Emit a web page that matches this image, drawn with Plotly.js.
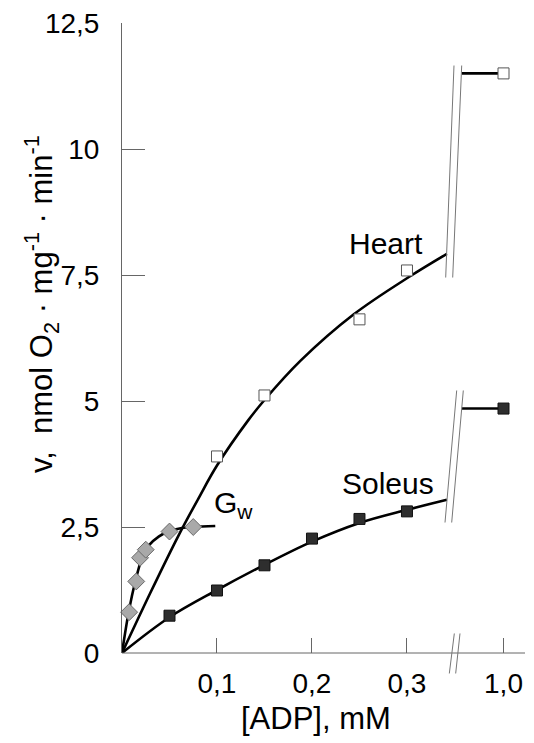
<!DOCTYPE html>
<html>
<head>
<meta charset="utf-8">
<script src="https://cdn.plot.ly/plotly-3.0.1.min.js"></script>
<style>html,body{margin:0;padding:0;background:#fff;}#chart{width:534px;height:743px;}</style>
</head>
<body>
<div id="chart"></div>
<script>
// ---- measured points ----
const heartADP = [0.1, 0.15, 0.25, 0.3];
const heartV = [3.90, 5.11, 6.62, 7.59];
const heartHighADP = [1.0];
const heartHighV = [11.50];

const soleusADP = [0.05, 0.1, 0.15, 0.2, 0.25, 0.3];
const soleusV = [0.74, 1.24, 1.74, 2.27, 2.66, 2.81];
const soleusHighADP = [1.0];
const soleusHighV = [4.85];

const gwADP = [0.0075, 0.015, 0.019, 0.025, 0.05, 0.075];
const gwV = [0.81, 1.42, 1.89, 2.05, 2.41, 2.50];

// ---- fitted curves ----
const heartFitX = [0, 0.03, 0.06, 0.08, 0.1, 0.133, 0.15, 0.188, 0.244, 0.302, 0.342];
const heartFitY = [0, 1.20, 2.35, 3.05, 3.72, 4.62, 5.02, 5.80, 6.72, 7.46, 7.92];
const heartFitHighX = [0.956, 1.0];
const heartFitHighY = [11.50, 11.50];

const soleusFitX = [0, 0.05, 0.1, 0.15, 0.2, 0.25, 0.3, 0.342];
const soleusFitY = [0, 0.71, 1.25, 1.75, 2.21, 2.58, 2.84, 3.04];
const soleusFitHighX = [0.956, 1.0];
const soleusFitHighY = [4.85, 4.85];

const gwFitX = [0, 0.007, 0.014, 0.021, 0.028, 0.0386, 0.0491, 0.0631, 0.0754, 0.0982];
const gwFitY = [0, 0.81, 1.42, 1.88, 2.13, 2.31, 2.41, 2.48, 2.50, 2.52];

// ---- axis ticks ----
const yTickVals = [0, 2.5, 5, 7.5, 10, 12.5];
const yTickText = ['0', '2,5', '5', '7,5', '10', '12,5'];
const xTickVals = [0.1, 0.2, 0.3];
const xTickText = ['0,1', '0,2', '0,3'];
const x2TickVals = [1.0];
const x2TickText = ['1,0'];

const FONT = 'Liberation Sans, Arial, sans-serif';
const lineStyle = {color: '#000', width: 2.6};
const splineStyle = {color: '#000', width: 2.6, shape: 'spline', smoothing: 1};

const traces = [
  {x: heartFitX, y: heartFitY, mode: 'lines', line: splineStyle, xaxis: 'x', yaxis: 'y', hoverinfo: 'skip'},
  {x: soleusFitX, y: soleusFitY, mode: 'lines', line: splineStyle, xaxis: 'x', yaxis: 'y', hoverinfo: 'skip'},
  {x: gwFitX, y: gwFitY, mode: 'lines', line: splineStyle, xaxis: 'x', yaxis: 'y', hoverinfo: 'skip'},
  {x: heartFitHighX, y: heartFitHighY, mode: 'lines', line: lineStyle, xaxis: 'x2', yaxis: 'y', hoverinfo: 'skip'},
  {x: soleusFitHighX, y: soleusFitHighY, mode: 'lines', line: lineStyle, xaxis: 'x2', yaxis: 'y', hoverinfo: 'skip'},
  {x: gwADP, y: gwV, mode: 'markers', xaxis: 'x', yaxis: 'y', cliponaxis: false,
   marker: {symbol: 'diamond', size: 13, color: '#a9a9a9', line: {color: '#6a6a6a', width: 1}}},
  {x: heartADP, y: heartV, mode: 'markers', xaxis: 'x', yaxis: 'y', cliponaxis: false,
   marker: {symbol: 'square', size: 11, color: '#ffffff', line: {color: '#555', width: 1}}},
  {x: heartHighADP, y: heartHighV, mode: 'markers', xaxis: 'x2', yaxis: 'y', cliponaxis: false,
   marker: {symbol: 'square', size: 11, color: '#ffffff', line: {color: '#555', width: 1}}},
  {x: soleusADP, y: soleusV, mode: 'markers', xaxis: 'x', yaxis: 'y', cliponaxis: false,
   marker: {symbol: 'square', size: 11, color: '#2e2e2e', line: {color: '#111', width: 1}}},
  {x: soleusHighADP, y: soleusHighV, mode: 'markers', xaxis: 'x2', yaxis: 'y', cliponaxis: false,
   marker: {symbol: 'square', size: 11, color: '#2e2e2e', line: {color: '#111', width: 1}}}
];

const breakLine = {color: '#777', width: 1};
const shapes = [
  {type: 'line', xref: 'paper', yref: 'paper', x0: 0, x1: 1, y0: 0, y1: 0, line: {color: '#666', width: 1}},
  {type: 'line', xref: 'paper', yref: 'paper', x0: 0.8122, y0: -0.0325, x1: 0.8246, y1: 0.031, line: breakLine},
  {type: 'line', xref: 'paper', yref: 'paper', x0: 0.8280, y0: -0.0325, x1: 0.8387, y1: 0.031, line: breakLine},
  {type: 'line', xref: 'paper', yref: 'paper', x0: 0.8032, y0: 0.596, x1: 0.8238, y1: 0.9325, line: breakLine},
  {type: 'line', xref: 'paper', yref: 'paper', x0: 0.8206, y0: 0.596, x1: 0.8429, y1: 0.9325, line: breakLine},
  {type: 'line', xref: 'paper', yref: 'paper', x0: 0.8015, y0: 0.2071, x1: 0.8305, y1: 0.4167, line: breakLine},
  {type: 'line', xref: 'paper', yref: 'paper', x0: 0.8181, y0: 0.2071, x1: 0.8469, y1: 0.4167, line: breakLine}
];

const annotations = [
  {text: 'Heart', x: 0.278, y: 8.13, xref: 'x', yref: 'y', showarrow: false, font: {family: FONT, size: 30, color: '#000'}},
  {text: 'Soleus', x: 0.280, y: 3.37, xref: 'x', yref: 'y', showarrow: false, font: {family: FONT, size: 30, color: '#000'}},
  {text: 'G<sub>w</sub>', x: 0.117, y: 2.95, xref: 'x', yref: 'y', showarrow: false, font: {family: FONT, size: 30, color: '#000'}},
  {text: '[ADP], mM', x: 0.482, y: 0, xref: 'paper', yref: 'paper', yanchor: 'middle', yshift: -65, showarrow: false,
   font: {family: FONT, size: 31, color: '#000'}},
  {text: 'v,  nmol O<sub>2</sub> · mg<sup>-1</sup> · min<sup>-1</sup>', textangle: -90, x: 0, y: 0.554, xref: 'paper', yref: 'paper',
   xanchor: 'center', yanchor: 'middle', xshift: -80, showarrow: false, font: {family: FONT, size: 31, color: '#000'}}
];

const layout = {
  width: 534, height: 743,
  margin: {l: 122, r: 9, t: 23, b: 90, pad: 0},
  paper_bgcolor: '#fff', plot_bgcolor: '#fff',
  showlegend: false,
  font: {family: FONT, color: '#000'},
  xaxis: {domain: [0, 0.825], range: [0, 0.35], anchor: 'y', showgrid: false, zeroline: false, showline: false,
          tickmode: 'array', tickvals: xTickVals, ticktext: xTickText, ticks: 'inside', ticklen: 15, tickwidth: 1, tickcolor: '#666',
          tickfont: {family: FONT, size: 28, color: '#000'}, ticklabelstandoff: 11},
  xaxis2: {domain: [0.8424, 1], range: [0.9558, 1.0226], anchor: 'y', showgrid: false, zeroline: false, showline: false,
          tickmode: 'array', tickvals: x2TickVals, ticktext: x2TickText, ticks: 'inside', ticklen: 15, tickwidth: 1, tickcolor: '#666',
          tickfont: {family: FONT, size: 28, color: '#000'}, ticklabelstandoff: 11},
  yaxis: {range: [0, 12.5], showgrid: false, zeroline: false, showline: true, linecolor: '#666', linewidth: 1,
          tickmode: 'array', tickvals: yTickVals, ticktext: yTickText, ticks: 'inside', ticklen: 23, tickwidth: 1, tickcolor: '#666',
          tickfont: {family: FONT, size: 28, color: '#000'}, ticklabelstandoff: 16},
  shapes: shapes,
  annotations: annotations
};

Plotly.newPlot('chart', traces, layout, {staticPlot: true, displayModeBar: false});
</script>
</body>
</html>
